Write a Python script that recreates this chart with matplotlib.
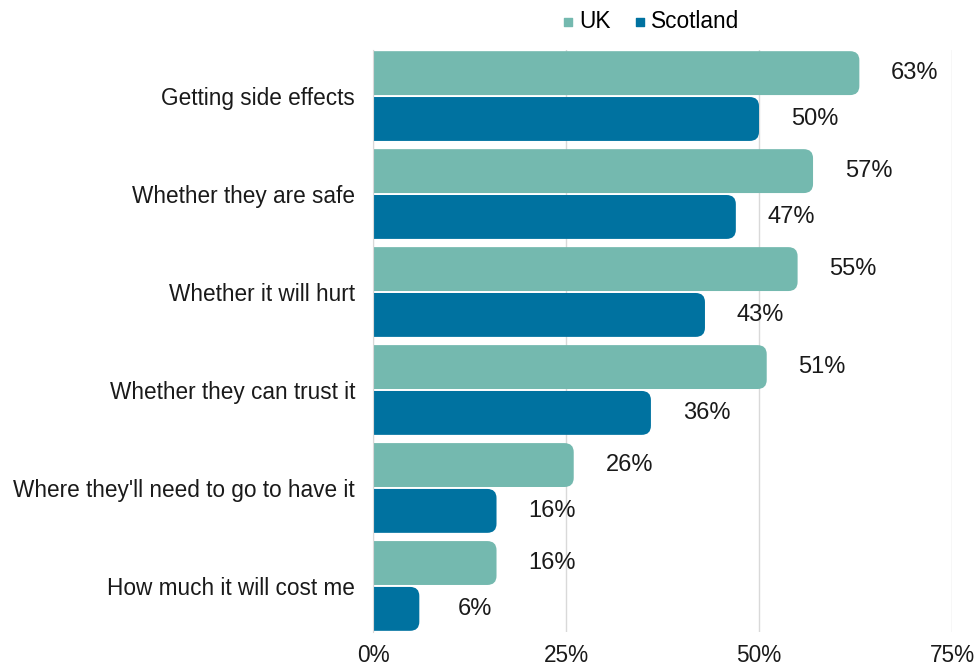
import matplotlib
matplotlib.use('Agg')
import matplotlib.pyplot as plt
from matplotlib.patches import FancyBboxPatch
import numpy as np

plt.rcParams['font.family'] = ['Liberation Sans', 'DejaVu Sans']

categories = ['Getting side effects', 'Whether they are safe', 'Whether it will hurt',
              'Whether they can trust it', "Where they'll need to go to have it",
              'How much it will cost me']
uk = [63, 57, 55, 51, 26, 16]
scotland = [50, 47, 43, 36, 16, 6]
series_names = ['UK', 'Scotland']
colors = ['#74b9af', '#0072a0']

fig = plt.figure(figsize=(9.77, 6.68), dpi=100)
ax = fig.add_axes([373 / 977, (668 - 632) / 668, (952 - 373) / 977, (632 - 50) / 668])

y = np.arange(len(categories))
h = 0.448
gap = 0.01
rad = 1.2  # rounded end radius in x-units

for vals, off, col, name in [(uk, -(h / 2 + gap), colors[0], series_names[0]),
                             (scotland, h / 2 + gap, colors[1], series_names[1])]:
    for yi, v in zip(y, vals):
        box = FancyBboxPatch((-rad * 2, yi + off - h / 2), v + rad * 2, h,
                             boxstyle='round,pad=0,rounding_size=%f' % rad,
                             mutation_aspect=0.077, fc=col, ec='none', zorder=3)
        ax.add_patch(box)
        ax.annotate('%d%%' % v, (v, yi + off), xytext=(40, 0), textcoords='offset points',
                    va='center', ha='center', fontsize=17, color='#1a1a1a')
    ax.scatter([], [], marker='s', color=col, s=30, label=name)

ax.set_xlim(0, 75)
ax.set_ylim(len(categories) - 0.5 - 0.03, -0.5 + 0.03)
ax.set_yticks(y)
ax.set_yticklabels(categories, fontsize=16.3, color='#1a1a1a')
ax.set_xticks([0, 25, 50, 75])
ax.set_xticklabels(['0%', '25%', '50%', '75%'], fontsize=16.3, color='#1a1a1a')
ax.tick_params(axis='x', length=0, pad=9)
ax.tick_params(axis='y', length=0, pad=13)
ax.grid(axis='x', color='#d9d9d9', lw=1, zorder=0)
for s in ['top', 'right', 'bottom']:
    ax.spines[s].set_visible(False)
ax.spines['left'].set_color('#d9d9d9')
ax.spines['left'].set_zorder(4)

fig.legend(loc='center', bbox_to_anchor=(648 / 977, 1 - 21 / 668), ncol=2, frameon=False,
           fontsize=16.3, handletextpad=0.0, handlelength=1.0, columnspacing=0.8)

fig.savefig('out.png', dpi=100)
